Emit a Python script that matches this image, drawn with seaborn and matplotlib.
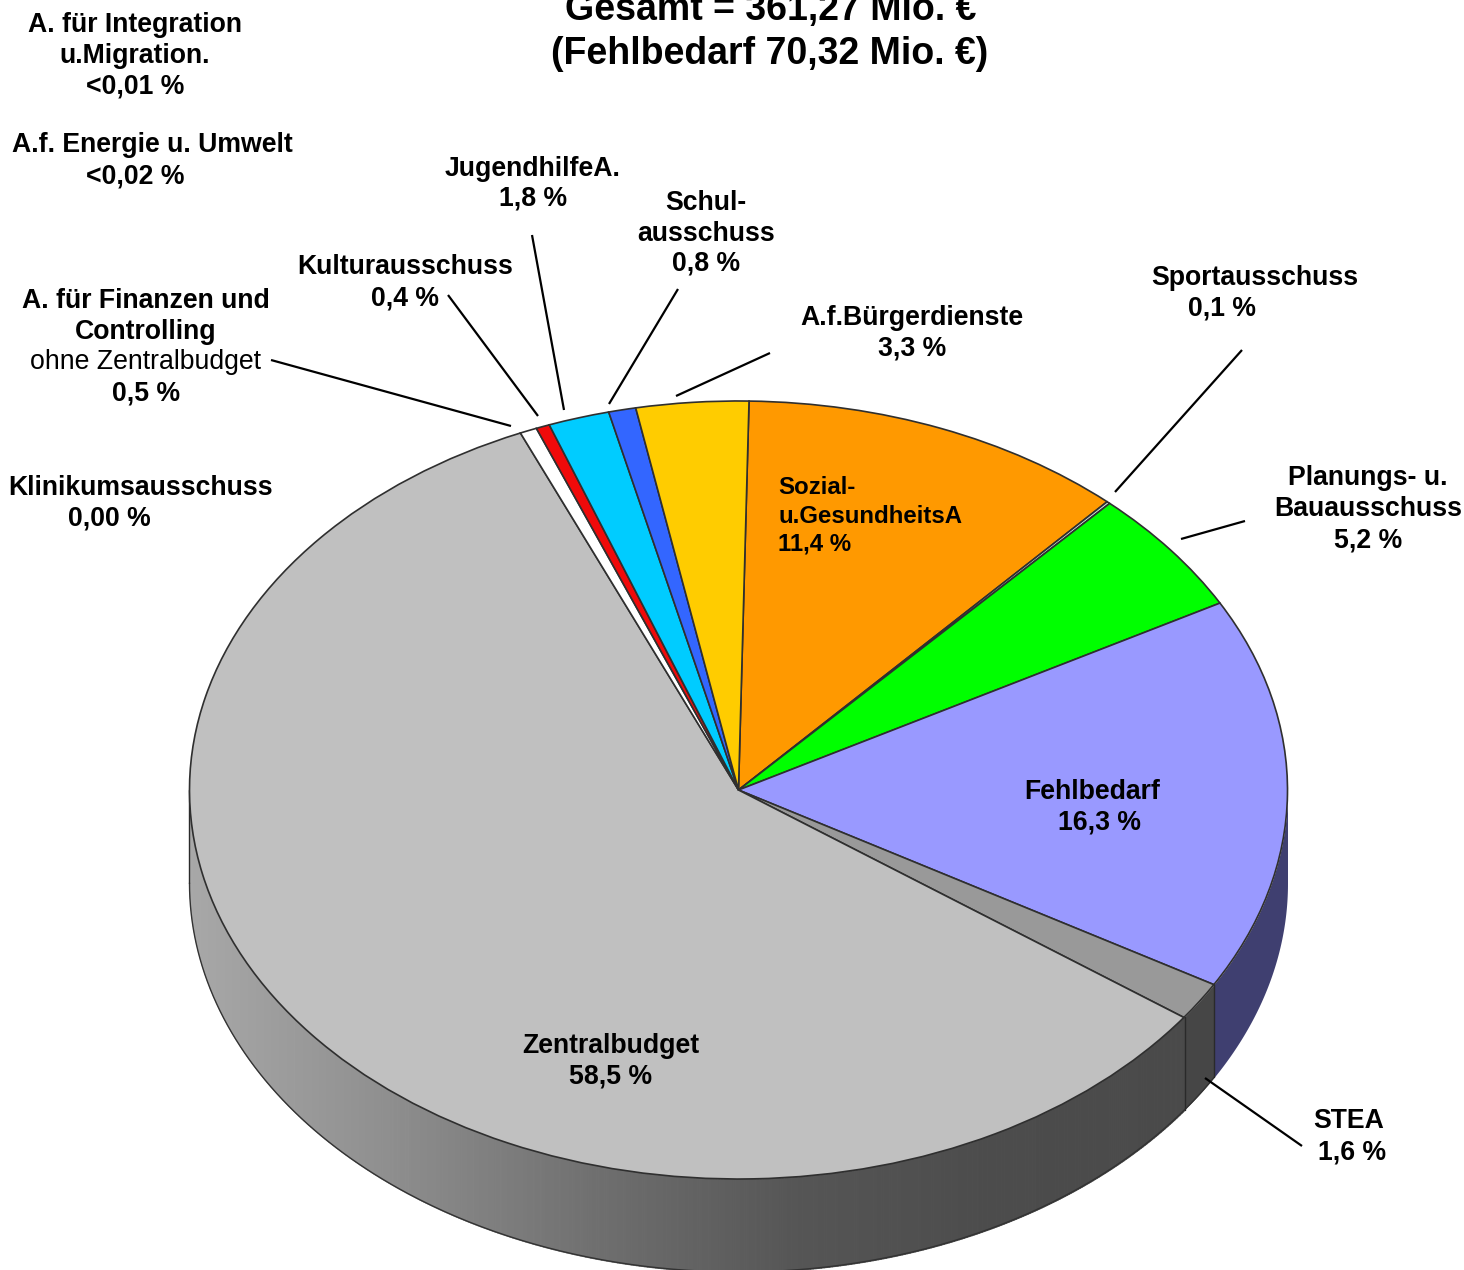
import numpy as np
import matplotlib
matplotlib.use('Agg')
import matplotlib.pyplot as plt
import seaborn as sns

# Share of the budget in percent, clockwise starting at the orange slice
slices = ['Sozial', 'Sport', 'Planung', 'Fehlbedarf', 'STEA', 'Zentralbudget',
          'Finanzen', 'Kultur', 'Jugendhilfe', 'Schul', 'Buerger']
values = [11.4, 0.1, 5.2, 16.3, 1.6, 58.5, 0.5, 0.4, 1.8, 0.8, 3.3]
top_colors = ['#FF9900', '#CFE6E0', '#00FF00', '#9999FF', '#999999', '#C0C0C0',
              '#FFFFFF', '#F00A0A', '#00CCFF', '#3366FF', '#FFCC00']
wall_colors = {'Fehlbedarf': '#3F3F70', 'STEA': '#464646'}
wall_grays = ['#A8A8A8', '#8E8E8E', '#707070', '#565656', '#4C4C4C', '#4A4A4A']

title_lines = ['Gesamt = 361,27 Mio. €', '(Fehlbedarf 70,32 Mio. €)']

# label text, x, y (pixels of the reference)
labels = [
    ('A. für Integration', 135, 25), ('u.Migration.', 135, 56), ('<0,01 %', 135, 87),
    ('A.f. Energie u. Umwelt', 152, 145), ('<0,02 %', 135, 176),
    ('JugendhilfeA.', 533, 169), ('1,8 %', 533, 199),
    ('Schul-', 706, 203), ('ausschuss', 706, 234), ('0,8 %', 706, 264),
    ('Kulturausschuss', 405, 267), ('0,4 %', 405, 298),
    ('A.f.Bürgerdienste', 912, 318), ('3,3 %', 912, 349),
    ('Sportausschuss', 1255, 278), ('0,1 %', 1222, 309),
    ('Planungs- u.', 1368, 478), ('Bauausschuss', 1368, 509), ('5,2 %', 1368, 540),
    ('A. für Finanzen und', 146, 301), ('Controlling', 146, 332), ('0,5 %', 146, 393),
    ('Klinikumsausschuss', 141, 488), ('0,00 %', 109, 519),
    ('Fehlbedarf', 1092, 792), ('16,3 %', 1099, 823),
    ('STEA', 1349, 1121), ('1,6 %', 1352, 1152),
    ('Zentralbudget', 611, 1046), ('58,5 %', 611, 1077),
]
sozial_lines = [('Sozial-', 778, 488), ('u.GesundheitsA', 778, 516), ('11,4 %', 778, 544)]

leaders = [
    ((271, 360), (511, 426)), ((448, 295), (538, 416)), ((532, 235), (564, 410)),
    ((678, 289), (609, 404)), ((770, 353), (676, 396)), ((1242, 350), (1115, 492)),
    ((1245, 521), (1181, 539)), ((1302, 1146), (1205, 1078)),
]

W, H = 1464, 1270
CX, CY, RX, RY = 738.5, 790, 549, 389
DEPTH = 93 / RY
START = 1.1  # degrees clockwise from 12 o'clock

sns.set_theme(style='white')
plt.rcParams['font.family'] = ['Liberation Sans', 'DejaVu Sans']

fig = plt.figure(figsize=(W / 100, H / 100), dpi=100)
ax = fig.add_axes([0, 0, 1, 1])

edges = START + np.cumsum([0] + values) * 3.6
edge_of = {name: (edges[i], edges[i + 1]) for i, name in enumerate(slices)}


def rim(deg):
    rad = np.radians(deg)
    return np.sin(rad), np.cos(rad)


# side wall, only the part of a slice on the front half is visible
gray_ramp = sns.blend_palette(wall_grays, 256)
zb_start = edge_of['Zentralbudget'][0]
zb_x_end = rim(zb_start)[0]
steps = np.linspace(270, zb_start, 500)
for a0, a1 in zip(steps[:-1], steps[1:]):
    x0, y0 = rim(a0)
    x1, y1 = rim(a1)
    idx = int((x0 + 1) / (zb_x_end + 1) * 255)
    col = gray_ramp[min(max(idx, 0), 255)]
    ax.fill_between([x0, x1], [y0, y1], [y0 - DEPTH, y1 - DEPTH],
                    color=col, linewidth=0.8, zorder=1)

for name, color in wall_colors.items():
    a0, a1 = edge_of[name]
    a0 = max(a0, 90)
    deg = np.linspace(a0, a1, 80)
    xs, ys = rim(deg)
    ax.fill_between(xs, ys, ys - DEPTH, color=color, linewidth=0, zorder=1)

# outlines of the wall
deg = np.linspace(edge_of['STEA'][0], 270, 400)
xs, ys = rim(deg)
ax.plot(xs, ys - DEPTH, color='#333333', lw=1, zorder=2)
for a in [edge_of['Fehlbedarf'][1], edge_of['STEA'][1], 270]:
    x, y = rim(a)
    ax.plot([x, x], [y, y - DEPTH], color='#2A2A2A', lw=1, zorder=2)

wedges, _ = ax.pie(values, colors=top_colors, startangle=90 - START, counterclock=False,
                   wedgeprops={'edgecolor': '#2F2F2F', 'linewidth': 1.2})
for w in wedges:
    w.set_zorder(3)

ax.set_aspect('auto')
ax.set_xlim(-CX / RX, (W - CX) / RX)
ax.set_ylim((CY - H) / RY, CY / RY)
ax.axis('off')


def put(txt, x, y, size=19.2, weight='bold', ha='center'):
    fig.text(x / W, 1 - y / H, txt, fontsize=size, fontweight=weight, ha=ha,
             va='center', color='black', zorder=5)


for txt, x, y in labels:
    put(txt, x, y)
for txt, x, y in sozial_lines:
    put(txt, x, y, size=17.3, ha='left')
put('ohne Zentralbudget', 146, 362, weight='normal')
put(title_lines[0], 771, 10, size=27)
put(title_lines[1], 770, 54, size=27)

for (x0, y0), (x1, y1) in leaders:
    ax.plot([(x0 - CX) / RX, (x1 - CX) / RX], [(CY - y0) / RY, (CY - y1) / RY],
            color='black', lw=1.6, zorder=4, solid_capstyle='butt')

fig.savefig('out.png', dpi=100, facecolor='white')
plt.close(fig)
